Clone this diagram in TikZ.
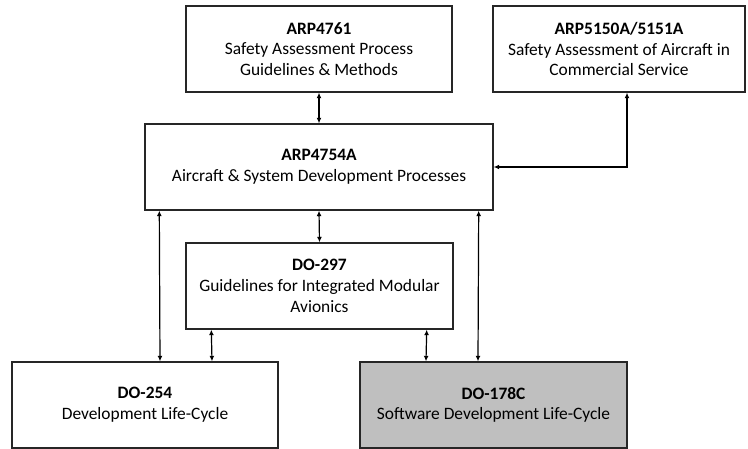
\documentclass[tikz,border=0pt]{standalone}
\usepackage{fontspec}
\setmainfont{Carlito}
\usetikzlibrary{arrows.meta}

\begin{document}
\begin{tikzpicture}[x=1pt,y=-1pt,
    box/.style={draw=black!85,line width=1.4pt,inner sep=0pt,align=center,
        minimum height=86pt,font=\fontsize{17.4}{20.7}\selectfont},
    link/.style={line width=1.2pt,{Latex[length=5.5pt,width=5pt]}-{Latex[length=5.5pt,width=5pt]}}]
    \useasboundingbox (0,0) rectangle (748,449);

    \node[box,minimum width=266pt] (arp61) at (319,49) {\textbf{ARP4761}\\Safety Assessment Process\\Guidelines \& Methods};
    \node[box,minimum width=252pt] (arp50) at (619,49) {\textbf{ARP5150A/5151A}\\Safety Assessment of Aircraft in\\Commercial Service};
    \node[box,minimum width=348pt] (arp54) at (319,167) {\textbf{ARP4754A}\\Aircraft \& System Development Processes};
    \node[box,minimum width=267pt] (do297) at (319.5,286) {\textbf{DO-297}\\Guidelines for Integrated Modular\\Avionics};
    \node[box,minimum width=266pt] (do254) at (145,405) {\textbf{DO-254}\\Development Life-Cycle};
    \node[box,minimum width=267pt,fill=black!25] (do178) at (493.5,405) {\textbf{DO-178C}\\Software Development Life-Cycle};

    \coordinate (bend) at (627,0);
    \draw[link] (arp61.south) -- (arp54.north);
    \draw[link] (arp50.south -| bend) |- (arp54.east);
    \draw[link] (arp54.south) -- (do297.north);
    \draw[link] ([xshift=15pt]arp54.south west) -- ([xshift=15pt]do254.north);
    \draw[link] ([xshift=26pt]do297.south west) -- ([xshift=67pt]do254.north);
    \draw[link] ([xshift=-27pt]do297.south east) -- ([xshift=-67.5pt]do178.north);
    \draw[link] ([xshift=-15pt]arp54.south east) -- ([xshift=-15.5pt]do178.north);
\end{tikzpicture}
\end{document}
